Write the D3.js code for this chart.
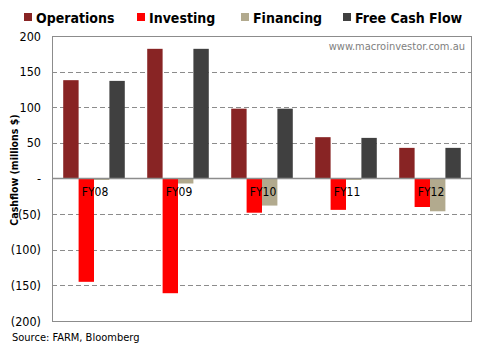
<!DOCTYPE html>
<html>
<head>
<meta charset="utf-8">
<script src="https://cdn.jsdelivr.net/npm/d3@7"></script>
<style>
  body { margin: 0; background: #fff; }
  text { font-family: "DejaVu Sans Condensed", "DejaVu Sans", sans-serif; }
</style>
</head>
<body>
<script>
var width = 485;
var height = 350;

// data (millions $)
var years = ["FY08", "FY09", "FY10", "FY11", "FY12"];
var seriesNames = ["Operations", "Investing", "Financing", "Free Cash Flow"];
var operations = [138, 182, 98, 58, 43];
var investing = [-145, -161, -48, -44, -40];
var financing = [-2, -7, -38, -2, -46];
var freeCashFlow = [137, 182, 98, 57, 43];
var yTicks = [-200, -150, -100, -50, 0, 50, 100, 150, 200];
var colors = ["#882424", "#ff0000", "#b2aa8e", "#404040"];

var seriesValues = [operations, investing, financing, freeCashFlow];

var padding = { left: 52, right: 13, top: 36, bottom: 29 };

var svg = d3.select("body")
    .append("svg")
    .attr("width", width)
    .attr("height", height)

var xScale = d3.scaleBand()
    .domain(years)
    .range([padding.left, width - padding.right])
    .paddingInner(0.267)
    .paddingOuter(0.1335)

var xSub = d3.scaleBand()
    .domain(seriesNames)
    .range([0, xScale.bandwidth()])

var yScale = d3.scaleLinear()
    .domain([-200, 200])
    .range([height - padding.bottom, padding.top])

var plotW = width - padding.left - padding.right;

// gridlines
svg.append("g")
    .selectAll("line")
    .data(yTicks.filter(function (d) { return d !== 0 && Math.abs(d) !== 200 }))
    .enter()
    .append("line")
    .attr("x1", padding.left)
    .attr("x2", width - padding.right)
    .attr("y1", function (d) { return Math.round(yScale(d)) + 0.5 })
    .attr("y2", function (d) { return Math.round(yScale(d)) + 0.5 })
    .attr("stroke", "#8c8c8c")
    .attr("stroke-dasharray", "5,3")

// plot border
svg.append("rect")
    .attr("x", padding.left + 0.5)
    .attr("y", padding.top + 0.5)
    .attr("width", plotW - 1)
    .attr("height", height - padding.top - padding.bottom)
    .attr("fill", "none")
    .attr("stroke", "#8c8c8c")

// bars
var rows = years.map(function (y, i) {
    return seriesNames.map(function (s, j) {
        return { year: y, series: s, value: seriesValues[j][i], color: colors[j] }
    })
})

svg.append("g")
    .selectAll("g")
    .data(rows)
    .enter()
    .append("g")
    .attr("transform", function (d) { return "translate(" + xScale(d[0].year) + ",0)" })
    .selectAll("rect")
    .data(function (d) { return d })
    .enter()
    .append("rect")
    .attr("x", function (d) { return xSub(d.series) })
    .attr("y", function (d) { return yScale(Math.max(0, d.value)) })
    .attr("width", xSub.bandwidth())
    .attr("height", function (d) { return Math.abs(yScale(d.value) - yScale(0)) })
    .attr("fill", function (d) { return d.color })

// zero line
svg.append("line")
    .attr("x1", padding.left)
    .attr("x2", width - padding.right)
    .attr("y1", yScale(0))
    .attr("y2", yScale(0))
    .attr("stroke", "#8c8c8c")
    .attr("stroke-width", 1.5)

// y axis labels
function fmt(d) {
    if (d === 0) return "-";
    if (d < 0) return "(" + (-d) + ")";
    return "" + d;
}

var yAxis = d3.axisLeft(yScale)
    .tickValues(yTicks)
    .tickFormat(fmt)
    .tickSize(0)
    .tickPadding(11)

var yg = svg.append("g")
    .attr("transform", "translate(" + padding.left + ",0)")
    .call(yAxis)
yg.select(".domain").remove()
yg.selectAll("text")
    .attr("font-size", 12.5)
    .attr("fill", "#000")
    .style("font-family", "'DejaVu Sans Condensed', sans-serif")

// category labels just below zero line
svg.append("g")
    .selectAll("text")
    .data(years)
    .enter()
    .append("text")
    .attr("x", function (d) { return xScale(d) + xScale.bandwidth() / 2 + 1 })
    .attr("y", yScale(0) + 17)
    .attr("text-anchor", "middle")
    .attr("font-size", 12)
    .text(function (d) { return d })

// y axis title
svg.append("text")
    .attr("transform", "translate(18,170) rotate(-90)")
    .attr("text-anchor", "middle")
    .attr("font-size", 10.5)
    .attr("font-weight", "bold")
    .text("Cashflow (millions $)")

// legend
var legendX = [24, 137, 241, 343];
var legend = svg.append("g")
    .selectAll("g")
    .data(seriesNames)
    .enter()
    .append("g")
    .attr("transform", function (d, i) { return "translate(" + legendX[i] + ",13)" })
legend.append("rect")
    .attr("width", 8)
    .attr("height", 8)
    .attr("fill", function (d, i) { return colors[i] })
legend.append("text")
    .attr("x", 12)
    .attr("y", 9.5)
    .attr("font-size", 14)
    .attr("font-weight", "bold")
    .text(function (d) { return d })

// watermark
svg.append("text")
    .attr("x", 465)
    .attr("y", 50)
    .attr("text-anchor", "end")
    .attr("font-size", 11)
    .attr("fill", "#808080")
    .text("www.macroinvestor.com.au")

// source
svg.append("text")
    .attr("x", 12)
    .attr("y", 341)
    .attr("font-size", 11)
    .text("Source: FARM, Bloomberg")
</script>
</body>
</html>
